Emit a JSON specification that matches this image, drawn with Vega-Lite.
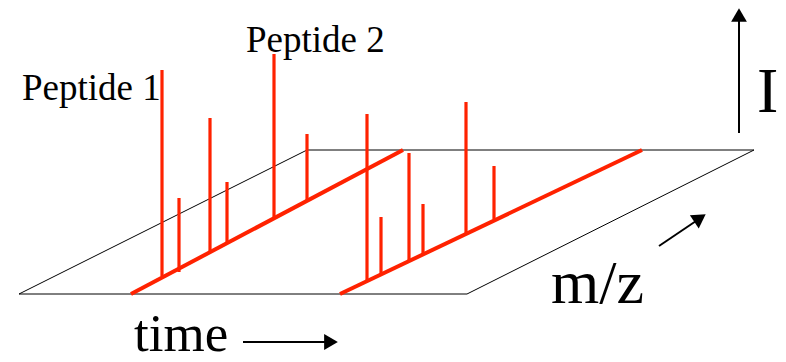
{
  "$schema": "https://vega.github.io/schema/vega-lite/v6.json",
  "width": 786,
  "height": 362,
  "autosize": {"type": "fit", "contains": "padding"},
  "padding": 0,
  "background": "white",
  "config": {"view": {"stroke": null}},
  "datasets": {
    "frame": [
      {"edge": "front", "x": 19, "y": 294, "x2": 467, "y2": 294},
      {"edge": "right", "x": 467, "y": 294, "x2": 754, "y2": 150},
      {"edge": "back", "x": 754, "y": 150, "x2": 307, "y2": 150},
      {"edge": "left", "x": 307, "y": 150, "x2": 19, "y2": 294}
    ],
    "tracks": [
      {"scan": 1, "x": 131, "y": 294, "x2": 403, "y2": 150},
      {"scan": 2, "x": 340, "y": 294, "x2": 642, "y2": 150}
    ],
    "peaks": [
      {"scan": 1, "x": 162, "base": 276, "top": 70},
      {"scan": 1, "x": 179, "base": 272, "top": 198},
      {"scan": 1, "x": 210, "base": 252, "top": 118},
      {"scan": 1, "x": 227, "base": 243, "top": 182},
      {"scan": 1, "x": 274, "base": 217, "top": 54},
      {"scan": 1, "x": 307, "base": 200, "top": 134},
      {"scan": 2, "x": 367, "base": 280, "top": 114},
      {"scan": 2, "x": 381, "base": 275, "top": 217},
      {"scan": 2, "x": 409, "base": 260, "top": 153},
      {"scan": 2, "x": 423, "base": 254, "top": 204},
      {"scan": 2, "x": 466, "base": 233, "top": 102},
      {"scan": 2, "x": 494, "base": 219, "top": 166}
    ],
    "arrows": [
      {"axis": "I", "x": 739, "y": 133, "x2": 739, "y2": 20},
      {"axis": "m/z", "x": 659, "y": 246, "x2": 699, "y2": 219},
      {"axis": "time", "x": 243, "y": 342, "x2": 326, "y2": 342}
    ],
    "heads": [
      {"axis": "I", "x": 739, "y": 15, "angle": 0},
      {"axis": "m/z", "x": 700, "y": 218, "angle": 56},
      {"axis": "time", "x": 331, "y": 342, "angle": 90}
    ],
    "labels": [
      {"label": "Peptide 1", "x": 22, "y": 100, "size": 37},
      {"label": "Peptide 2", "x": 246, "y": 52, "size": 37},
      {"label": "I", "x": 757, "y": 112, "size": 64},
      {"label": "m/z", "x": 551, "y": 303, "size": 62},
      {"label": "time", "x": 134, "y": 351, "size": 53}
    ]
  },
  "encoding": {
    "x": {"field": "x", "type": "quantitative", "scale": {"domain": [0, 786], "nice": false, "zero": false}, "axis": null},
    "y": {"field": "y", "type": "quantitative", "scale": {"domain": [0, 362], "nice": false, "zero": false, "reverse": true}, "axis": null}
  },
  "layer": [
    {
      "data": {"name": "frame"},
      "mark": {"type": "rule", "color": "black", "strokeWidth": 1},
      "encoding": {
        "x2": {"field": "x2"},
        "y2": {"field": "y2"}
      }
    },
    {
      "data": {"name": "tracks"},
      "mark": {"type": "rule", "color": "#ff2200", "strokeWidth": 4},
      "encoding": {
        "x2": {"field": "x2"},
        "y2": {"field": "y2"}
      }
    },
    {
      "data": {"name": "peaks"},
      "mark": {"type": "rule", "color": "#ff2200", "strokeWidth": 3.2},
      "encoding": {
        "y": {"field": "base", "type": "quantitative"},
        "y2": {"field": "top"}
      }
    },
    {
      "data": {"name": "arrows"},
      "mark": {"type": "rule", "color": "black", "strokeWidth": 2},
      "encoding": {
        "x2": {"field": "x2"},
        "y2": {"field": "y2"}
      }
    },
    {
      "data": {"name": "heads"},
      "mark": {"type": "point", "shape": "triangle-up", "filled": true, "color": "black", "opacity": 1, "size": 250},
      "encoding": {
        "angle": {"field": "angle", "type": "quantitative", "scale": null}
      }
    },
    {
      "data": {"name": "labels"},
      "mark": {"type": "text", "font": "Liberation Serif", "align": "left", "baseline": "alphabetic", "color": "black"},
      "encoding": {
        "text": {"field": "label"},
        "size": {"field": "size", "type": "quantitative", "scale": null}
      }
    }
  ]
}
